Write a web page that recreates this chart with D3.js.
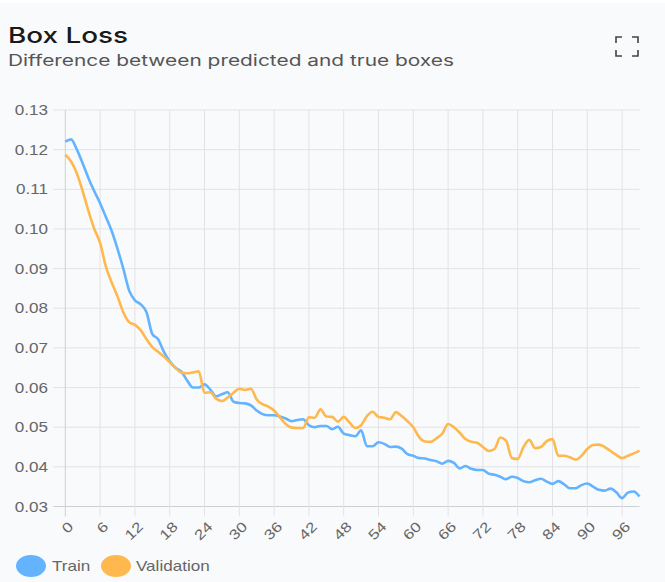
<!DOCTYPE html>
<html><head><meta charset="utf-8">
<script src="https://cdn.jsdelivr.net/npm/d3@7/dist/d3.min.js"></script>
<style>body{margin:0;background:#fff;} svg{display:block;}</style>
</head><body><svg id="c" width="665" height="582"></svg>
<script>
const epochs = d3.range(0, 100);
const trainLoss = [
0.1220,0.1226,0.1200,0.1165,0.1128,0.1095,0.1065,0.1030,0.0995,0.0950,
0.0900,0.0845,0.0820,0.0810,0.0790,0.0735,0.0722,0.0690,0.0666,0.0650,
0.0640,0.0618,0.0600,0.0600,0.0608,0.0595,0.0578,0.0583,0.0588,0.0564,
0.0561,0.0560,0.0555,0.0542,0.0533,0.0530,0.0530,0.0527,0.0522,0.0515,
0.0518,0.0520,0.0505,0.0500,0.0503,0.0503,0.0495,0.0501,0.0484,0.0480,
0.0477,0.0492,0.0452,0.0452,0.0462,0.0458,0.0450,0.0451,0.0446,0.0432,
0.0428,0.0422,0.0421,0.0417,0.0414,0.0408,0.0415,0.0410,0.0396,0.0402,
0.0395,0.0392,0.0392,0.0383,0.0380,0.0375,0.0369,0.0375,0.0372,0.0364,
0.0361,0.0366,0.0370,0.0363,0.0357,0.0364,0.0356,0.0346,0.0346,0.0354,
0.0358,0.0350,0.0342,0.0340,0.0345,0.0336,0.0321,0.0335,0.0338,0.0325];
const valLoss = [
0.1187,0.1170,0.1140,0.1095,0.1045,0.1000,0.0965,0.0905,0.0865,0.0830,
0.0790,0.0765,0.0758,0.0745,0.0722,0.0702,0.0690,0.0678,0.0664,0.0650,
0.0638,0.0636,0.0638,0.0641,0.0587,0.0588,0.0572,0.0566,0.0575,0.0587,
0.0597,0.0594,0.0597,0.0570,0.0558,0.0552,0.0542,0.0525,0.0508,0.0499,
0.0498,0.0498,0.0525,0.0524,0.0545,0.0527,0.0526,0.0514,0.0526,0.0512,
0.0498,0.0505,0.0528,0.0539,0.0526,0.0524,0.0520,0.0538,0.0528,0.0515,
0.0500,0.0475,0.0464,0.0463,0.0472,0.0484,0.0508,0.0500,0.0486,0.0470,
0.0463,0.0461,0.0450,0.0440,0.0445,0.0474,0.0466,0.0422,0.0420,0.0450,
0.0468,0.0447,0.0450,0.0465,0.0470,0.0428,0.0428,0.0424,0.0418,0.0428,
0.0445,0.0455,0.0456,0.0450,0.0440,0.0430,0.0422,0.0428,0.0434,0.0441];
const yTickValues = [0.03,0.04,0.05,0.06,0.07,0.08,0.09,0.10,0.11,0.12,0.13];
const xTickLabels = [0,6,12,18,24,30,36,42,48,54,60,66,72,78,84,90,96];
const seriesNames = ["Train","Validation"];
const seriesColors = ["#63b3ff","#ffb84d"];
const titleText = "Box Loss";
const subtitleText = "Difference between predicted and true boxes";

const svg = d3.select("#c");
const SX = 1.22; // horizontal stretch of text seen in the reference
const plotL = 65.3, plotR = 639.5, plotT = 110, plotB = 506.5;

svg.append("rect").attr("x",0).attr("y",3).attr("width",665).attr("height",579).attr("fill","#f9fafc");

const x = d3.scaleLinear().domain([0, 99]).range([plotL, plotR]);
const y = d3.scaleLinear().domain([0.03, 0.13]).range([plotB, plotT]);

function stretchedText(g, tx, ty, txt) {
  return g.append("text").attr("transform", `translate(${tx},${ty}) scale(${SX},1)`).text(txt);
}

// Title / subtitle
svg.append("text").attr("x", 8).attr("y", 43).text(titleText)
  .attr("font-family","Inter, 'Open Sans', sans-serif")
  .attr("font-size",22).attr("font-weight",500).attr("fill","#1a1a1a")
  .attr("textLength", 120).attr("lengthAdjust","spacingAndGlyphs");
svg.append("text").attr("x", 8).attr("y", 66).text(subtitleText)
  .attr("font-family","Inter, 'Open Sans', sans-serif")
  .attr("font-size",15.5).attr("fill","#555")
  .attr("textLength", 446).attr("lengthAdjust","spacingAndGlyphs");

// expand icon
const ic = svg.append("g").attr("stroke","#444").attr("stroke-width",1.6).attr("fill","none");
ic.append("path").attr("d","M616,43 V37 H622 M632,37 H638 V43 M616,50 V56 H622 M632,56 H638 V50");

// grid
const grid = svg.append("g");
grid.selectAll("line.h").data(yTickValues).join("line")
  .attr("x1", plotL - 12).attr("x2", plotR)
  .attr("y1", d => y(d)).attr("y2", d => y(d))
  .attr("stroke", (d,i) => i === 0 ? "#cfcfd2" : "#e3e3e6").attr("stroke-width",1);
grid.selectAll("line.v").data(xTickLabels).join("line")
  .attr("x1", d => x(d)).attr("x2", d => x(d))
  .attr("y1", plotT).attr("y2", plotB + 10)
  .attr("stroke", (d,i) => i === 0 ? "#cfcfd2" : "#e3e3e6").attr("stroke-width",1);

// y labels
const yl = svg.append("g").attr("font-family","'Liberation Sans', Arial, sans-serif").attr("font-size",14).attr("fill","#666");
yTickValues.forEach(v => {
  stretchedText(yl, 48, y(v) + 5, d3.format(".2f")(v)).attr("text-anchor","end");
});
// x labels
const xl = svg.append("g").attr("font-family","'Liberation Sans', Arial, sans-serif").attr("font-size",14).attr("fill","#666");
xTickLabels.forEach(v => {
  xl.append("text").attr("transform", `translate(${x(v)+9},${plotB+21}) rotate(-45) scale(${SX},1)`)
    .attr("text-anchor","end").text(v);
});

// lines
const line = d3.line().x((d,i) => x(epochs[i])).y(d => y(d)).curve(d3.curveMonotoneX);
[trainLoss, valLoss].forEach((s, k) => {
  svg.append("path").attr("d", line(s)).attr("fill","none")
    .attr("stroke", seriesColors[k]).attr("stroke-width",2.6).attr("stroke-linejoin","round");
});

// legend
const lg = svg.append("g").attr("font-family","'Liberation Sans', Arial, sans-serif").attr("font-size",14).attr("fill","#666");
const legendPos = [[31, 52], [116, 136]];
seriesNames.forEach((n, k) => {
  lg.append("ellipse").attr("cx", legendPos[k][0]).attr("cy", 566).attr("rx", 15).attr("ry", 11).attr("fill", seriesColors[k]);
  stretchedText(lg, legendPos[k][1], 571, n);
});
</script></body></html>
